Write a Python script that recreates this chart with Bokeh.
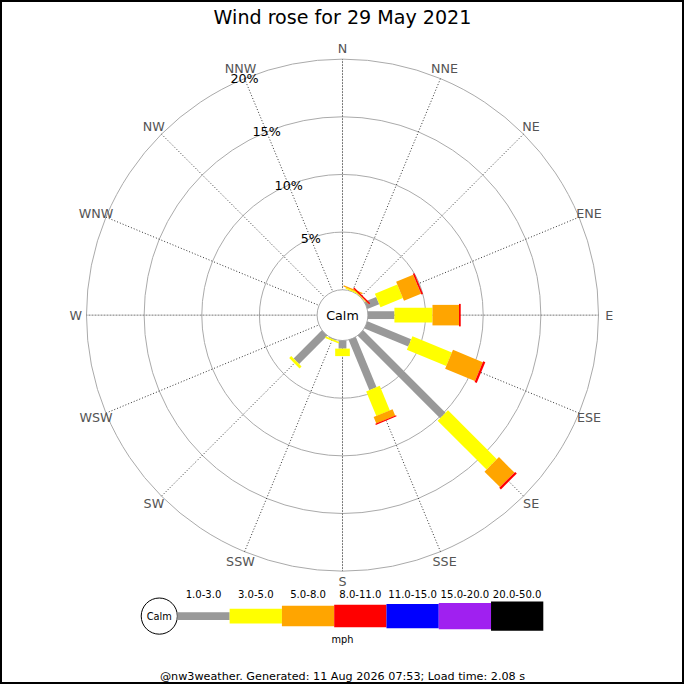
import math

from bokeh.plotting import figure
from bokeh.models import Range1d
from bokeh.core.properties import value
from bokeh.embed import file_html
from bokeh.resources import INLINE

# Data (% of the day per direction and speed bin)
directions = ['N', 'NNE', 'NE', 'ENE', 'E', 'ESE', 'SE', 'SSE',
              'S', 'SSW', 'SW', 'WSW', 'W', 'WNW', 'NW', 'NNW']
speed_bins = ['1.0-3.0', '3.0-5.0', '5.0-8.0', '8.0-11.0', '11.0-15.0', '15.0-20.0', '20.0-50.0']
bin_colors = ['#999999', '#ffff00', '#ffa500', '#ff0000', '#0000ff', '#a020f0', '#000000']

pct_1_3 = [0.0, 0.0, 0.0, 1.1, 2.3, 4.1, 10.1, 4.7, 0.7, 0.05, 3.45, 0.0, 0.0, 0.0, 0.0, 0.0]
pct_3_5 = [0.0, 0.12, 0.05, 2.1, 3.3, 3.7, 6.0, 2.3, 0.65, 0.15, 0.25, 0.0, 0.0, 0.0, 0.0, 0.0]
pct_5_8 = [0.0, 0.12, 0.05, 1.6, 2.3, 2.8, 1.9, 0.6, 0.0, 0.0, 0.0, 0.0, 0.0, 0.0, 0.0, 0.0]
pct_8_11 = [0.0, 0.0, 0.12, 0.15, 0.15, 0.2, 0.2, 0.1, 0.0, 0.0, 0.0, 0.0, 0.0, 0.0, 0.0, 0.0]
series = [pct_1_3, pct_3_5, pct_5_8, pct_8_11]

ring_pcts = [5, 10, 15, 20]
ring_labels = ['5%', '10%', '15%', '20%']

title = 'Wind rose for 29 May 2021'
unit_label = 'mph'
footer = '@nw3weather. Generated: 11 Aug 2026 07:53; Load time: 2.08 s'

# Layout (in reference pixel units, y pointing up)
S = 684
k = S / 700.0
cx, cy = 350, 378
r_calm = 26
r_per_pct = 11.8
bar_widths = [8, 15, 21, 23, 25, 27, 30]
font = value("DejaVu Sans")


def fs(px):
    return '%.1fpx' % (px * k)


def radius(p):
    return r_calm + r_per_pct * p


p = figure(width=S, height=S, output_backend="svg", toolbar_location=None,
           x_range=Range1d(0, 700), y_range=Range1d(0, 700),
           min_border=0, match_aspect=False)
p.axis.visible = False
p.grid.visible = False
p.outline_line_color = 'black'
p.outline_line_width = 3
p.background_fill_color = 'white'

# rings
p.circle(x=[cx] * len(ring_pcts), y=[cy] * len(ring_pcts),
         radius=[radius(v) for v in ring_pcts],
         fill_color=None, line_color='#aaaaaa', line_width=1)

# spokes
r_out = radius(ring_pcts[-1])
for i, d in enumerate(directions):
    th = math.radians(i * 22.5)
    x1 = cx + r_out * math.sin(th)
    y1 = cy + r_out * math.cos(th)
    if i % 4 == 0:
        p.line([cx, x1], [cy, y1], line_color='#777777', line_width=1, line_dash='2 1')
    else:
        p.line([cx, x1], [cy, y1], line_color='#333333', line_width=1, line_dash='1 2')

# direction labels
r_lab = 273
lx = [cx + r_lab * math.sin(math.radians(i * 22.5)) for i in range(len(directions))]
ly = [cy + r_lab * math.cos(math.radians(i * 22.5)) for i in range(len(directions))]
p.text(x=lx, y=ly, text=directions, text_font=font, text_font_size=fs(13),
       text_color='#555555', text_align='center', text_baseline='middle')

# calm circle
p.circle(x=[cx], y=[cy], radius=[r_calm], fill_color='white', line_color='#aaaaaa', line_width=1)
p.text(x=[cx], y=[cy], text=['Calm'], text_font=font, text_font_size=fs(13),
       text_color='black', text_align='center', text_baseline='middle')

# petals
for b, vals in enumerate(series):
    xs, ys, ws, hs, angs = [], [], [], [], []
    for i, d in enumerate(directions):
        start = sum(series[j][i] for j in range(b))
        v = vals[i]
        if v <= 0:
            continue
        r0 = radius(start)
        r1 = radius(start + v)
        th = math.radians(i * 22.5)
        rm = (r0 + r1) / 2
        xs.append(cx + rm * math.sin(th))
        ys.append(cy + rm * math.cos(th))
        ws.append(r1 - r0)
        hs.append(bar_widths[b])
        angs.append(math.pi / 2 - th)
    p.rect(x=xs, y=ys, width=ws, height=hs, angle=angs,
           fill_color=bin_colors[b], line_color=None)

# ring labels along NNW spoke
th = math.radians(-22.5)
p.text(x=[cx + radius(v) * math.sin(th) for v in ring_pcts],
       y=[cy + radius(v) * math.cos(th) for v in ring_pcts],
       text=ring_labels, text_font=font, text_font_size=fs(13),
       text_color='black', text_align='center', text_baseline='middle')

# legend
leg_y = 70
leg_x0 = 181
seg_w = 53.5
p.circle(x=[162.5], y=[leg_y], radius=[18.5], fill_color='white', line_color='black', line_width=1)
p.text(x=[162.5], y=[leg_y], text=['Calm'], text_font=font, text_font_size=fs(10),
       text_align='center', text_baseline='middle')
lefts = [leg_x0 + i * seg_w for i in range(len(speed_bins))]
p.hbar(y=[leg_y] * len(speed_bins), left=lefts, right=[l + seg_w for l in lefts],
       height=bar_widths, fill_color=bin_colors, line_color=None)
p.text(x=[l + seg_w / 2 for l in lefts], y=[leg_y + 23] * len(speed_bins), text=speed_bins,
       text_font=font, text_font_size=fs(10.3), text_align='center', text_baseline='middle')
p.text(x=[350], y=[46], text=[unit_label], text_font=font, text_font_size=fs(10),
       text_align='center', text_baseline='middle')

# title & footer
p.text(x=[350], y=[683], text=[title], text_font=font, text_font_size=fs(19.5),
       text_align='center', text_baseline='middle')
p.text(x=[350], y=[8], text=[footer], text_font=font, text_font_size=fs(11.5),
       text_align='center', text_baseline='middle')

open("out.html", "w").write(file_html(p, INLINE))
